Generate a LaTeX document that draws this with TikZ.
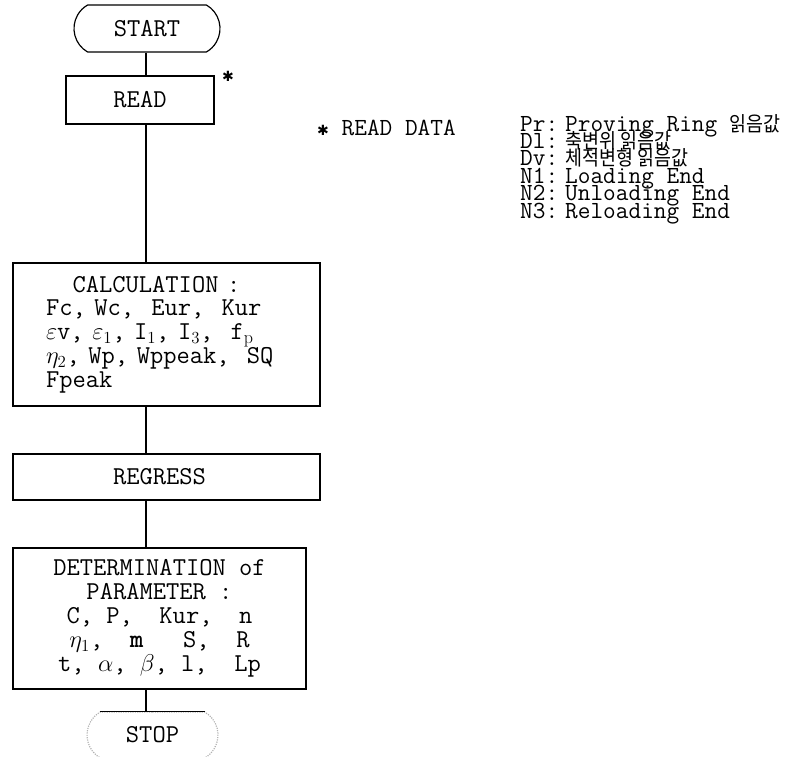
\documentclass[tikz,border=0pt]{standalone}
\usepackage{fontspec}
\newfontfamily\kofont[FakeStretch=0.9]{Noto Sans CJK KR}
\newfontfamily\symfont{DejaVu Sans}
\usetikzlibrary{positioning,shapes.misc}
\newcommand{\pxu}{0.03cm}
\newcommand{\flowfont}{\ttfamily\fontsize{22}{20.3}\selectfont}
\newcommand{\notefont}{\ttfamily\fontsize{21}{15}\selectfont}
\newcommand{\starmark}{{\symfont\fontsize{12}{12}\selectfont ✱}}
\newcommand{\kor}[1]{{\kofont\fontsize{17.5}{17}\selectfont #1}}
\tikzset{
  flowbox/.style={draw, line width=1pt, inner ysep=0pt, font=\flowfont, align=left},
  term/.style={draw, rounded rectangle, rounded rectangle arc length=120,
               line width=1pt, inner sep=0pt, font=\flowfont},
  link/.style={line width=1pt},
  rtext/.style={font=\notefont, inner sep=0pt, anchor=base west},
}

\begin{document}
\begin{tikzpicture}[x=0.03cm, y=-0.03cm]
  \useasboundingbox (0,0) rectangle (800,757);
  \coordinate (spine) at (146,0);
  % flow column
  \node[term, minimum width=146*\pxu, minimum height=47*\pxu] (start) at (147,28.5) {START};
  \node[flowbox, minimum width=148*\pxu, minimum height=48*\pxu, align=center] (read) at (140,100) {READ};
  \node[inner sep=0pt] (star) at (228,76) {\starmark};
  \node[flowbox, minimum width=307*\pxu, minimum height=143*\pxu,
        inner xsep=33*\pxu, text width=241*\pxu] (calc) at (166.5,334.5)
    {\phantom{XX}CALCULATION :\\
     Fc, Wc,~ Eur,~ Kur\\
     $\varepsilon$v, $\varepsilon_1$, I$_1$, I$_3$,~ f$_\mathrm{p}$\\
     $\eta_2$, Wp, Wppeak,~ SQ\\
     Fpeak};
  \node[flowbox, minimum width=307*\pxu, minimum height=46*\pxu,
        inner xsep=100*\pxu, text width=107*\pxu] (regress) at (166.5,477) {REGRESS};
  \node[flowbox, minimum width=293*\pxu, minimum height=141*\pxu, align=center,
        font=\ttfamily\fontsize{22}{20.5}\selectfont] (determ) at (159.5,618.5)
    {DETERMINATION of\\
     PARAMETER :\\
     C, P,~ Kur,~ n\\
     $\eta_1$,~ \textbf{m}~~ S,~ R\\
     t, $\alpha$, $\beta$, l,~ Lp};
  \node[term, draw=gray!60, densely dotted, minimum width=131*\pxu, minimum height=46*\pxu] (stop) at (152.5,735) {STOP};
  \draw[link] (stop.north west) -- (stop.north east);
  % connectors
  \draw[link] (start.south -| spine) -- (read.north -| spine);
  \draw[link] (read.south -| spine) -- (calc.north -| spine);
  \draw[link] (calc.south -| spine) -- (regress.north -| spine);
  \draw[link] (regress.south -| spine) -- (determ.north -| spine);
  \draw[link] (determ.south -| spine) -- (stop.north -| spine);
  % read data note
  \node[rtext] (readdata) at (317,135) {\starmark\ READ DATA};
  \foreach \key/\val [count=\i from 0] in {Pr/{Proving Ring \kor{읽음값}},
      Dl/{\kor{축변위 읽음값}}, Dv/{\kor{체적변형 읽음값}},
      N1/{Loading End}, N2/{Unloading End}, N3/{Reloading End}}
    \node[rtext] (data\i) at (520,131+17.4*\i) {\makebox[1.35cm][l]{\key:}\val};
\end{tikzpicture}
\end{document}
